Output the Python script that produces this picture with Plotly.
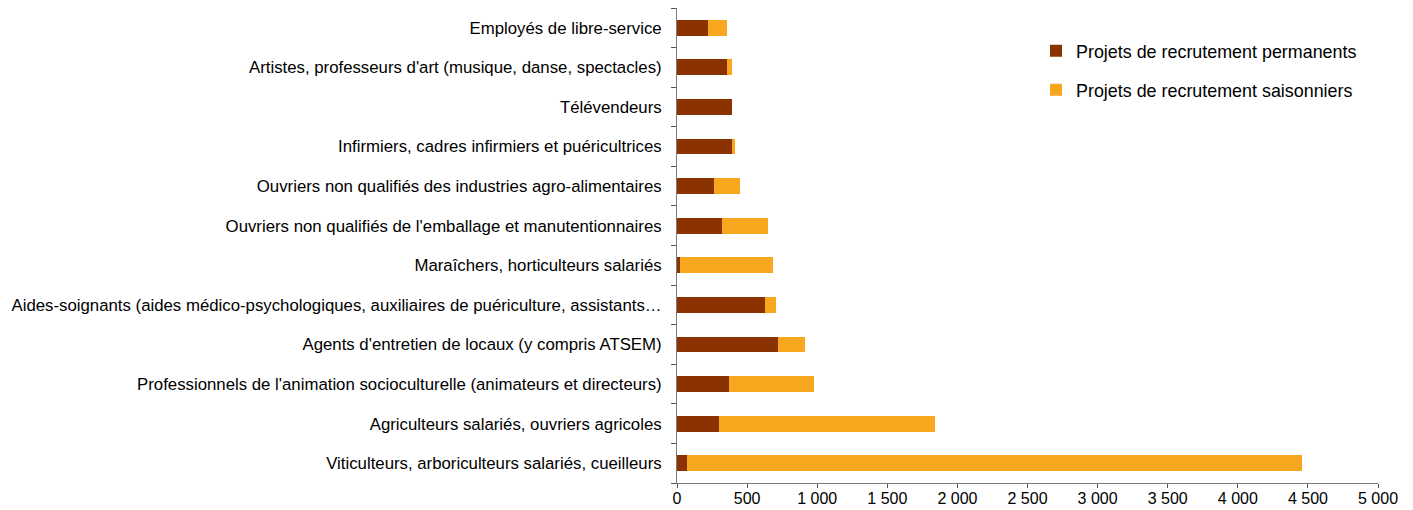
import plotly.graph_objects as go

categories = [
    "Viticulteurs, arboriculteurs salariés, cueilleurs",
    "Agriculteurs salariés, ouvriers agricoles",
    "Professionnels de l'animation socioculturelle (animateurs et directeurs)",
    "Agents d'entretien de locaux (y compris ATSEM)",
    "Aides-soignants (aides médico-psychologiques, auxiliaires de puériculture, assistants…",
    "Maraîchers, horticulteurs salariés",
    "Ouvriers non qualifiés de l'emballage et manutentionnaires",
    "Ouvriers non qualifiés des industries agro-alimentaires",
    "Infirmiers, cadres infirmiers et puéricultrices",
    "Télévendeurs",
    "Artistes, professeurs d'art (musique, danse, spectacles)",
    "Employés de libre-service",
]
permanents = [70, 300, 370, 720, 630, 20, 320, 262, 392, 392, 355, 220]
saisonniers = [4390, 1540, 610, 195, 75, 665, 328, 188, 20, 0, 35, 140]
tick_vals = [0, 500, 1000, 1500, 2000, 2500, 3000, 3500, 4000, 4500, 5000]

FONT = "Liberation Sans, Arial, sans-serif"
W, H = 1413, 510

fig = go.Figure()
fig.add_trace(go.Bar(
    y=categories, x=permanents, orientation="h",
    name="Projets de recrutement permanents",
    marker=dict(color="#8A3300", line=dict(width=0)),
    legend="legend", showlegend=True,
))
fig.add_trace(go.Bar(
    y=categories, x=saisonniers, orientation="h",
    name="Projets de recrutement saisonniers",
    marker=dict(color="#F9A61F", line=dict(width=0)),
    legend="legend2", showlegend=True,
))

leg_common = dict(xanchor="left", yanchor="middle",
                  font=dict(size=17.9), bgcolor="rgba(0,0,0,0)")

# plot area in page px: x 677..1378, y 8..483
fig.update_layout(
    barmode="stack",
    bargap=0.6,
    width=W, height=H,
    margin=dict(l=669, r=43, t=0, b=35, autoexpand=False),
    paper_bgcolor="white", plot_bgcolor="white",
    separators=", ",
    showlegend=True,
    font=dict(family=FONT, size=17, color="#000000"),
    legend=dict(x=(1036 - 677) / 701, y=1 - (51 - 8) / 475, **leg_common),
    legend2=dict(x=(1036 - 677) / 701, y=1 - (90 - 8) / 475, **leg_common),
    xaxis=dict(
        range=[0, 5000], tickvals=tick_vals, tickformat=",d",
        showgrid=False, zeroline=False, automargin=False,
        showline=True, linecolor="#7a7a7a", linewidth=1,
        ticks="outside", ticklen=4, tickcolor="#555555",
        tickfont=dict(size=16), tickangle=0, ticklabelstandoff=-3,
    ),
    yaxis=dict(
        range=[-0.5, 11.5], showgrid=False, zeroline=False, automargin=False,
        showline=True, linecolor="#7a7a7a", linewidth=1,
        ticks="outside", ticklen=5, tickcolor="#555555",
        tickson="boundaries", ticklabelstandoff=11,
        tickfont=dict(size=16.8),
    ),
)

fig.write_html("out.html")
